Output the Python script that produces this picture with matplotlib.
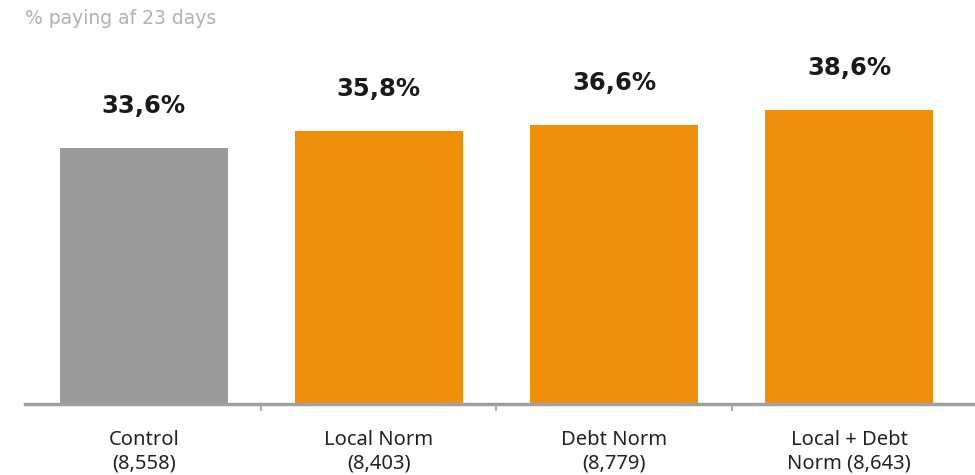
import matplotlib
matplotlib.use('Agg')
import matplotlib.pyplot as plt

# Share of people paying within 23 days, per letter variant
groups = ["Control\n(8,558)", "Local Norm\n(8,403)", "Debt Norm\n(8,779)", "Local + Debt\nNorm (8,643)"]
values = [33.6, 35.8, 36.6, 38.6]
bar_colors = ["#9b9b9b", "#f0900a", "#f0900a", "#f0900a"]
title = "% paying af 23 days"


def main():
    plt.rcParams['font.family'] = ['Noto Sans', 'DejaVu Sans']
    fig = plt.figure(figsize=(9.75, 4.75), dpi=100)
    ax = fig.add_axes([25 / 975, 71 / 475, 950 / 975, 404 / 475])

    x = list(range(len(values)))
    ax.bar(x, values, width=0.715, color=bar_colors, zorder=2)

    for xi, v in zip(x, values):
        label = f"{v:.1f}%".replace(".", ",")
        ax.annotate(label, (xi, v), xytext=(0, 42), textcoords='offset pixels',
                    ha='center', va='center', fontsize=17.5, fontweight='bold',
                    family='DejaVu Sans', color='#1a1a1a')

    ax.set_xlim(-0.505, 3.535)
    ax.set_ylim(0, 53.0)

    for side in ('top', 'right', 'left'):
        ax.spines[side].set_visible(False)
    ax.spines['bottom'].set_color('#a0a0a0')
    ax.spines['bottom'].set_linewidth(2.5)

    # ticks sit between the categories, labels under each bar
    ax.set_xticks([0.5, 1.5, 2.5])
    ax.set_xticklabels([])
    ax.set_xticks(x, minor=True)
    ax.set_xticklabels(groups, minor=True, fontsize=14.5, color='#222222',
                       linespacing=1.2)
    ax.tick_params(axis='x', which='major', length=5, width=1.2,
                   color='#a0a0a0', direction='out')
    ax.tick_params(axis='x', which='minor', length=0, pad=19)
    ax.set_yticks([])

    fig.text(25 / 975, 1 - 18 / 475, title, ha='left', va='center',
             fontsize=13.5, family='DejaVu Sans', color='#b0b0b0')

    fig.savefig('out.png', dpi=100)


if __name__ == "__main__":
    main()
